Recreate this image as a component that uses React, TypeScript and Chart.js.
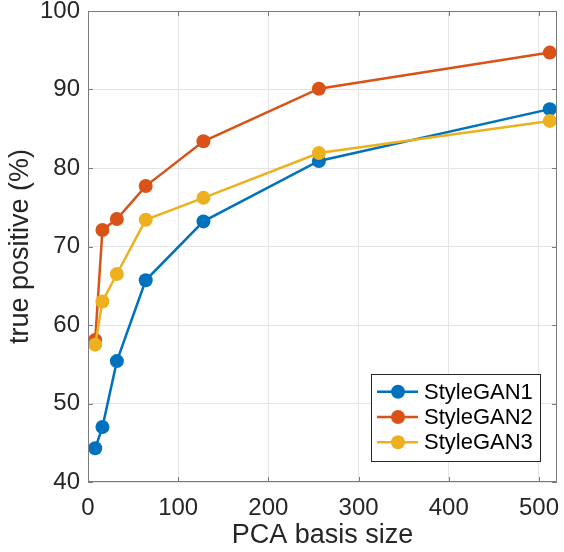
import React, { useEffect, useRef } from "react";
import { Chart, registerables } from "chart.js";

Chart.register(...registerables);

const basisSizes = [8, 16, 32, 64, 128, 256, 512];
const styleGAN1 = [44.3, 47.0, 55.4, 65.7, 73.2, 80.9, 87.5];
const styleGAN2 = [58.1, 72.1, 73.5, 77.7, 83.4, 90.1, 94.7];
const styleGAN3 = [57.5, 63.0, 66.5, 73.4, 76.2, 81.9, 86.0];
const seriesNames = ["StyleGAN1", "StyleGAN2", "StyleGAN3"];
const seriesColors = ["#0072BD", "#D95319", "#EDB120"];
const xTickValues = [0, 100, 200, 300, 400, 500];
const yTickValues = [40, 50, 60, 70, 80, 90, 100];

const FONT = "'Liberation Sans', Arial, Helvetica, sans-serif";
const TEXT = "#262626";

const boxPlugin = {
  id: "matlabBox",
  afterDatasetsDraw(chart: any) {
    const { ctx, chartArea: a, scales } = chart;
    const tl = 5;
    ctx.save();
    ctx.strokeStyle = "#7a7a7a";
    ctx.lineWidth = 1;
    ctx.beginPath();
    ctx.rect(a.left + 0.5, a.top + 0.5, a.right - a.left - 1, a.bottom - a.top - 1);
    ctx.stroke();
    ctx.beginPath();
    for (const v of xTickValues) {
      const px = Math.round(scales.x.getPixelForValue(v)) + 0.5;
      ctx.moveTo(px, a.bottom);
      ctx.lineTo(px, a.bottom - tl);
      ctx.moveTo(px, a.top);
      ctx.lineTo(px, a.top + tl);
    }
    for (const v of yTickValues) {
      const py = Math.round(scales.y.getPixelForValue(v)) + 0.5;
      ctx.moveTo(a.left, py);
      ctx.lineTo(a.left + tl, py);
      ctx.moveTo(a.right, py);
      ctx.lineTo(a.right - tl, py);
    }
    ctx.stroke();
    ctx.restore();
  },
  afterDraw(chart: any) {
    const { ctx, chartArea: a } = chart;
    const w = 169;
    const h = 87;
    const right = a.right - 17;
    const bottom = a.bottom - 21;
    const left = right - w;
    const top = bottom - h;
    ctx.save();
    ctx.fillStyle = "#ffffff";
    ctx.fillRect(left, top, w, h);
    ctx.strokeStyle = "#262626";
    ctx.lineWidth = 1;
    ctx.strokeRect(Math.round(left) + 0.5, Math.round(top) + 0.5, w, h);
    ctx.font = `22px ${FONT}`;
    ctx.textBaseline = "middle";
    ctx.textAlign = "left";
    chart.data.datasets.forEach((ds: any, i: number) => {
      const cy = top + 17.7 + i * 25.3;
      ctx.strokeStyle = ds.borderColor;
      ctx.lineWidth = 2.5;
      ctx.beginPath();
      ctx.moveTo(left + 6, cy);
      ctx.lineTo(left + 47, cy);
      ctx.stroke();
      ctx.fillStyle = ds.backgroundColor;
      ctx.beginPath();
      ctx.arc(left + 27, cy, 7, 0, Math.PI * 2);
      ctx.fill();
      ctx.fillStyle = "#000000";
      ctx.fillText(ds.label, left + 53, cy + 1);
    });
    ctx.restore();
  },
};

export default function App() {
  const ref = useRef<HTMLCanvasElement>(null);
  useEffect(() => {
    if (!ref.current) return;
    const seriesValues = [styleGAN1, styleGAN2, styleGAN3];
    const chart = new Chart(ref.current, {
      type: "line",
      data: {
        datasets: seriesValues.map((vals, i) => ({
          label: seriesNames[i],
          data: basisSizes.map((x, j) => ({ x, y: vals[j] })),
          borderColor: seriesColors[i],
          backgroundColor: seriesColors[i],
          pointBackgroundColor: seriesColors[i],
          pointBorderWidth: 0,
          pointRadius: 7,
          borderWidth: 2.5,
          tension: 0,
          clip: false as any,
          order: 3 - i,
        })),
      },
      options: {
        animation: false,
        responsive: false,
        layout: { padding: { top: 11, right: 5, left: 0, bottom: 0 } },
        plugins: { legend: { display: false }, tooltip: { enabled: false } },
        scales: {
          x: {
            type: "linear",
            min: 0,
            max: 520,
            afterBuildTicks: (s: any) => {
              s.ticks = xTickValues.map((v) => ({ value: v }));
            },
            afterFit: (s: any) => {
              s.height = 70;
              s.paddingLeft = 0;
              s.paddingRight = 0;
              s.paddingTop = 0;
              s.paddingBottom = 0;
            },
            grid: { color: "#e4e4e4", drawTicks: false, lineWidth: 1 },
            border: { display: false },
            ticks: {
              color: TEXT,
              padding: 12,
              maxRotation: 0,
              font: { family: FONT, size: 24 },
            },
            title: {
              display: true,
              text: "PCA basis size",
              color: TEXT,
              font: { family: FONT, size: 27 },
              padding: { top: 0, bottom: 0 },
            },
          },
          y: {
            type: "linear",
            min: 40,
            max: 100,
            afterBuildTicks: (s: any) => {
              s.ticks = yTickValues.map((v) => ({ value: v }));
            },
            afterFit: (s: any) => {
              s.width = 88;
              s.paddingLeft = 0;
              s.paddingRight = 0;
              s.paddingTop = 0;
              s.paddingBottom = 0;
            },
            grid: { color: "#e4e4e4", drawTicks: false, lineWidth: 1 },
            border: { display: false },
            ticks: {
              color: TEXT,
              padding: 8,
              font: { family: FONT, size: 24 },
            },
            title: {
              display: true,
              text: "true positive (%)",
              color: TEXT,
              font: { family: FONT, size: 27 },
              padding: { top: 4, bottom: 0 },
            },
          },
        },
      },
      plugins: [boxPlugin],
    } as any);
    return () => chart.destroy();
  }, []);
  return (
    <div style={{ position: "fixed", left: 0, top: 0, width: 564, height: 552, background: "#fff" }}>
      <canvas ref={ref} width={564} height={552} style={{ width: 564, height: 552, display: "block" }} />
    </div>
  );
}
